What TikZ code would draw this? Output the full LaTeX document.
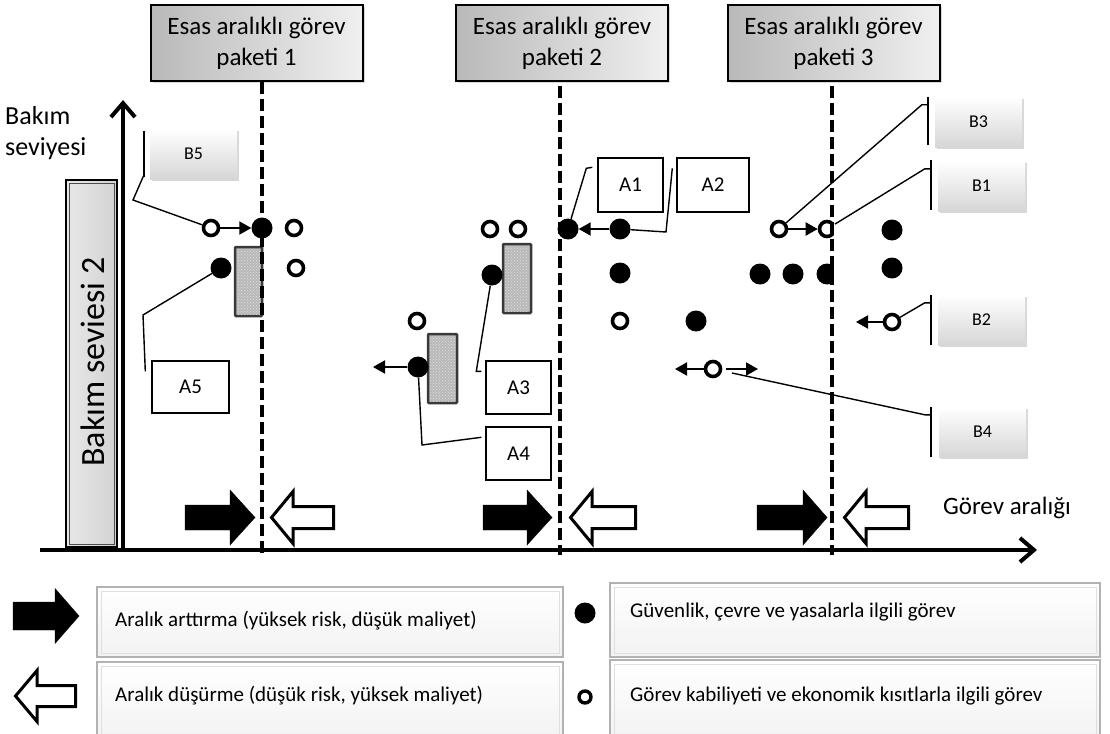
\documentclass[tikz,border=0pt]{standalone}
\usepackage{fontspec}
\setmainfont{Carlito}
\usetikzlibrary{arrows.meta,shadows,patterns,calc}

% block arrow: style, x start, x head back, x tip, y centre, half body, half head
\newcommand\blkarrow[7]{%
  \draw[#1] (#2,#5-#6) -- (#3,#5-#6) -- (#3,#5-#7) -- (#4,#5) -- (#3,#5+#7)
    -- (#3,#5+#6) -- (#2,#5+#6) -- cycle;}

\tikzset{
  titlebox/.style={draw=black, line width=2pt, left color=gray!55, right color=gray!12,
    minimum width=212pt, minimum height=76pt, align=center, inner sep=2pt,
    font=\fontsize{25}{31}\selectfont,
    drop shadow={opacity=0.3, shadow xshift=2pt, shadow yshift=-2pt}},
  pkgline/.style={line width=4pt, dash pattern=on 12pt off 5pt},
  axisline/.style={line width=4pt, -{Straight Barb[length=14pt, width=24pt]}},
  fdot/.style={circle, fill=black, minimum size=21pt, inner sep=0pt},
  hdot/.style={circle, draw=black, fill=white, line width=3.6pt, minimum size=15pt, inner sep=0pt},
  darr/.style={line width=2pt, -{Triangle[length=12pt, width=13pt]}},
  grayblk/.style={draw=gray!45!black, fill=gray!55, line width=2.5pt, rounded corners=1pt},
  callout/.style={line width=1.4pt},
  accent/.style={line width=2pt},
  abox/.style={draw=black, line width=1.4pt, fill=white, inner sep=0pt,
    font=\fontsize{21}{24}\selectfont},
  bbox/.style={top color=white, bottom color=gray!32, inner sep=0pt,
    minimum width=87pt, minimum height=50pt, font=\fontsize{18}{20}\selectfont,
    drop shadow={opacity=0.3, shadow xshift=1.5pt, shadow yshift=-2pt}},
  legbox/.style={draw=gray!60, line width=1.2pt, top color=white, bottom color=gray!10},
  legtxt/.style={anchor=west, inner sep=0pt, font=\fontsize{21}{24}\selectfont},
}

\begin{document}
\begin{tikzpicture}[x=1pt, y=-1pt]
\useasboundingbox (0,0) rectangle (1110,733);
\fill[white] (0,0) rectangle (1110,733);

% maintenance packages
\node[titlebox] (T1) at (256.5,43) {Esas aralıklı görev\\paketi 1};
\node[titlebox] (T2) at (562,43.5) {Esas aralıklı görev\\paketi 2};
\node[titlebox] (T3) at (833.5,43.5) {Esas aralıklı görev\\paketi 3};

% axes
\coordinate (xs) at (40,550);
\coordinate (xe) at (1037,550);
\coordinate (ys) at (123,552);
\coordinate (ye) at (123,100);
\draw[axisline] (xs) -- (xe);
\draw[axisline] (ys) -- (ye);

\node[inner sep=0pt, anchor=west, align=left, font=\fontsize{26}{31}\selectfont]
  (ylab) at (5,133) {Bakım\\seviyesi};
\node[font=\fontsize{25}{28}\selectfont] (xlab) at (1007,508) {Görev aralığı};

% level box
\draw[black, line width=1.5pt, left color=gray!18, right color=gray!35] (66,180) rectangle (117,547);
\draw[black!70, line width=0.8pt] (69,183) rectangle (114,544);
\node[rotate=90, font=\fontsize{34}{36}\selectfont] (lvl) at (93,362) {Bakım seviesi 2};

% task blocks
\draw[grayblk] (235,247) rectangle (262,316);
\draw[grayblk] (503,244) rectangle (531,313);
\draw[grayblk] (428,334) rectangle (457,403);
\fill[pattern=crosshatch dots, pattern color=gray!25] (237,249) rectangle (260,314);
\fill[pattern=crosshatch dots, pattern color=gray!25] (505,246) rectangle (529,311);
\fill[pattern=crosshatch dots, pattern color=gray!25] (430,336) rectangle (455,401);

% package lines 1 and 2
\coordinate (p1t) at (262,82);
\coordinate (p1b) at (262,555);
\coordinate (p2t) at (560,86);
\coordinate (p2b) at (560,555);
\draw[pkgline] (p1t) -- (p1b);
\draw[pkgline] (p2t) -- (p2b);

% tasks around package 1
\node[hdot] (h1a) at (211,228) {};
\node[fdot] (f1a) at (262,228) {};
\node[hdot] (h1b) at (294,228) {};
\node[hdot] (h1c) at (296,268) {};
\node[fdot] (f1b) at (221,268) {};

% tasks around package 2
\node[hdot] (h2a) at (490,229) {};
\node[hdot] (h2b) at (518,229) {};
\node[fdot] (f2c) at (492,275) {};
\node[hdot] (h2c) at (417,321) {};
\node[fdot] (f2d) at (418,367) {};
\node[fdot] (f2a) at (568,229) {};
\node[fdot] (f2b) at (620,229) {};
\node[fdot] (f2e) at (620,273) {};
\node[hdot] (h2d) at (620,321) {};
\node[fdot] (f2f) at (696,321) {};
\node[hdot] (hB4) at (713,369) {};

% tasks around package 3
\node[fdot] (f3a) at (760,274) {};
\node[fdot] (f3b) at (793,274) {};
\node[fdot] (f3c) at (827,274) {};
\node[hdot] (h3a) at (779,229) {};
\node[hdot] (h3b) at (827,229) {};
\node[fdot] (f3d) at (892,230) {};
\node[fdot] (f3e) at (892,268) {};
\node[hdot] (hB2) at (892,322) {};

% package line 3
\fill[white] (834,212) rectangle (840,290);
\coordinate (p3t) at (832,86);
\coordinate (p3b) at (832,555);
\draw[pkgline] (p3t) -- (p3b);

% interval shifts
\coordinate (c2l) at (373,367);
\coordinate (cB4l) at (675,369);
\coordinate (cB4r) at (758,369);
\coordinate (cB2l) at (856,322);
\draw[darr] (h1a) -- (f1a);
\draw[darr] (f2b) -- (f2a);
\draw[darr] (h3a) -- (h3b);
\draw[darr] (f2d) -- (c2l);
\draw[darr] (hB4) -- (cB4l);
\draw[darr, shorten <=4pt] (hB4) -- (cB4r);
\draw[darr] (hB2) -- (cB2l);

% increase / decrease arrows at each package
\blkarrow{fill=black}{185}{230}{255}{517.5}{12.5}{27.5}
\blkarrow{draw=black, fill=white, line width=3pt, line join=miter}{333.5}{293}{271.5}{517.5}{11}{26}
\blkarrow{fill=black}{483}{527}{552}{517.5}{12.5}{27.5}
\blkarrow{draw=black, fill=white, line width=3pt, line join=miter}{635.5}{592}{570.5}{517.5}{11}{26}
\blkarrow{fill=black}{757}{803}{827}{517.5}{12.5}{27.5}
\blkarrow{draw=black, fill=white, line width=3pt, line join=miter}{908.5}{866}{844.5}{517.5}{11}{26}

% A labels
\node[abox, minimum width=65pt, minimum height=54pt] (A1) at (630.5,185) {A1};
\node[abox, minimum width=72pt, minimum height=54pt] (A2) at (713,185) {A2};
\node[abox, minimum width=65pt, minimum height=53pt] (A3) at (518.5,387.5) {A3};
\node[abox, minimum width=65pt, minimum height=53pt] (A4) at (518.5,453.5) {A4};
\node[abox, minimum width=77pt, minimum height=52pt] (A5) at (190.5,387) {A5};

\draw[callout] ($(A1.north west)+(-5,10)$) -- ++(-6,1) -- (f2a);
\draw[callout] ($(A2.north west)+(-4,11)$) -- (666,232) -- (f2b);
\draw[callout] ($(A3.north west)+(-4,11)$) -- ++(-5,0) -- (f2c);
\draw[callout] ($(A4.north west)+(-4,11)$) -- (422,445) -- (f2d);
\draw[callout] ($(A5.north west)+(-6,11)$) -- (143,315) -- (f1b);

% B labels
\node[bbox] (B5) at (193.5,154) {B5};
\node[bbox] (B3) at (978.5,122) {B3};
\node[bbox] (B1) at (981.5,186) {B1};
\node[bbox] (B2) at (981.5,320) {B2};
\node[bbox] (B4) at (982.5,432) {B4};

\draw[accent] ($(B5.north west)+(-6,2)$) -- ($(B5.south west)+(-6,-2)$);
\draw[accent] ($(B3.north west)+(-7,0)$) -- ($(B3.south west)+(-7,-2)$);
\draw[accent] ($(B1.north west)+(-7,-1)$) -- ($(B1.south west)+(-7,-1)$);
\draw[accent] ($(B2.north west)+(-7,0)$) -- ($(B2.south west)+(-7,0)$);
\draw[accent] ($(B4.north west)+(-8,0)$) -- ($(B4.south west)+(-8,0)$);

\draw[callout] ($(B5.south west)+(-6,-4)$) -- (133,200) -- (h1a);
\draw[callout] ($(B3.north west)+(-7,8)$) -- ++(-6,0) -- (h3a);
\draw[callout] ($(B1.north west)+(-7,8)$) -- ++(-6,0) -- (h3b);
\draw[callout] ($(B2.north west)+(-7,8)$) -- ++(-6,0) -- (hB2);
\draw[callout] ($(B4.north west)+(-8,8)$) -- ++(-6,0) -- (732,373);

% legend
\draw[legbox] (97,587) rectangle (563,657);
\draw[legbox] (97,662) rectangle (563,740);
\draw[legbox] (610,583) rectangle (1100,657);
\draw[legbox] (610,660) rectangle (1100,740);
\draw[gray!25, line width=0.8pt] (101,591) rectangle (559,653);
\draw[gray!25, line width=0.8pt] (101,666) rectangle (559,740);
\draw[gray!25, line width=0.8pt] (614,587) rectangle (1096,653);
\draw[gray!25, line width=0.8pt] (614,664) rectangle (1096,740);

\blkarrow{fill=black}{13}{55}{79}{616}{14}{27.5}
\blkarrow{draw=black, fill=white, line width=3pt, line join=miter}{75.5}{37}{15.5}{696}{10.5}{25.5}
\node[fdot] (lf) at (585,613) {};
\node[hdot, minimum size=12pt, line width=3.4pt] (lh) at (585,697) {};

\node[legtxt] (L1) at (115,621) {Aralık arttırma (yüksek risk, düşük maliyet)};
\node[legtxt] (L2) at (115,696) {Aralık düşürme (düşük risk, yüksek maliyet)};
\node[legtxt] (L3) at (630,612) {Güvenlik, çevre ve yasalarla ilgili görev};
\node[legtxt] (L4) at (630,696) {Görev kabiliyeti ve ekonomik kısıtlarla ilgili görev};
\end{tikzpicture}
\end{document}
